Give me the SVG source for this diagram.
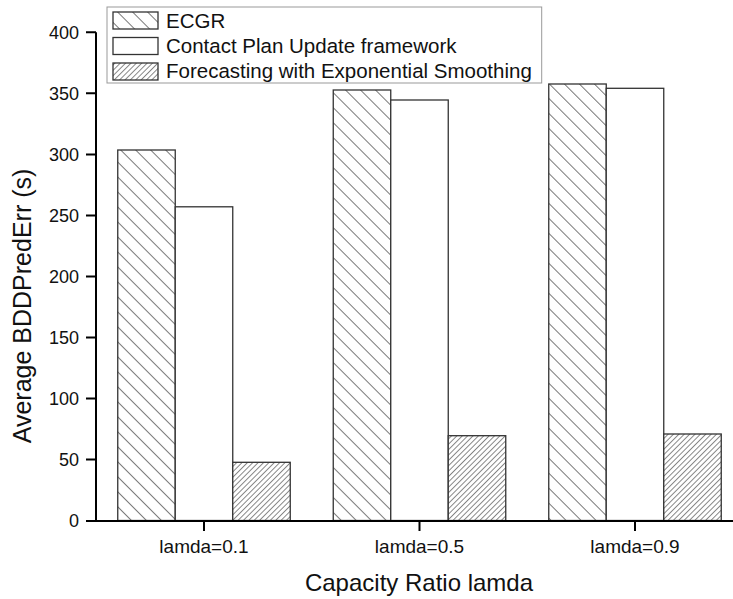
<svg xmlns="http://www.w3.org/2000/svg" width="733" height="599" viewBox="0 0 733 599">
<style>
text{font-family:"Liberation Sans",Arial,sans-serif;fill:#111}
.tick{font-size:18px;text-anchor:end}
.xl{font-size:19px;text-anchor:middle}
.lg{font-size:20.5px}
.title{font-size:24px;text-anchor:middle}
.ytitle{font-size:25px;text-anchor:middle}
.bar{stroke:#333;stroke-width:1.3}
.ax{stroke:#000;stroke-width:2;fill:none}
</style>
<defs>
<pattern id="hA" patternUnits="userSpaceOnUse" width="10.6" height="10" patternTransform="rotate(-45)">
<rect width="10.6" height="10" fill="#fff"/>
<line x1="0.5" y1="0" x2="0.5" y2="10" stroke="#777" stroke-width="1"/>
</pattern>
<pattern id="hC" patternUnits="userSpaceOnUse" width="3.8" height="10" patternTransform="rotate(45)">
<rect width="3.8" height="10" fill="#fff"/>
<line x1="0.5" y1="0" x2="0.5" y2="10" stroke="#777" stroke-width="0.9"/>
</pattern>
</defs>
<rect width="733" height="599" fill="#fff"/>
<g id="bars">
<rect class="bar" x="117.75" y="150" width="57.5" height="370.5" fill="url(#hA)"/>
<rect class="bar" x="175.25" y="206.8" width="57.5" height="313.7" fill="#fff"/>
<rect class="bar" x="232.75" y="462.3" width="57.5" height="58.2" fill="url(#hC)"/>
<rect class="bar" x="333.25" y="90" width="57.5" height="430.5" fill="url(#hA)"/>
<rect class="bar" x="390.75" y="100" width="57.5" height="420.5" fill="#fff"/>
<rect class="bar" x="448.25" y="435.7" width="57.5" height="84.8" fill="url(#hC)"/>
<rect class="bar" x="548.75" y="84" width="57.5" height="436.5" fill="url(#hA)"/>
<rect class="bar" x="606.25" y="88.3" width="57.5" height="432.2" fill="#fff"/>
<rect class="bar" x="663.75" y="434" width="57.5" height="86.5" fill="url(#hC)"/>
</g>
<g id="axes">
<path class="ax" d="M96,32.3 V521 M86,521 H733"/>
<path class="ax" d="M86,32.3H96 M86,93.3H96 M86,154.4H96 M86,215.4H96 M86,276.4H96 M86,337.4H96 M86,398.5H96 M86,459.5H96 M204,521V531 M419.5,521V531 M635,521V531"/>
<text class="tick" x="79" y="38.7">400</text>
<text class="tick" x="79" y="99.7">350</text>
<text class="tick" x="79" y="160.8">300</text>
<text class="tick" x="79" y="221.8">250</text>
<text class="tick" x="79" y="282.8">200</text>
<text class="tick" x="79" y="343.8">150</text>
<text class="tick" x="79" y="404.9">100</text>
<text class="tick" x="79" y="465.9">50</text>
<text class="tick" x="79" y="526.9">0</text>
<text class="xl" x="204" y="552.7">lamda=0.1</text>
<text class="xl" x="419.5" y="552.7">lamda=0.5</text>
<text class="xl" x="635" y="552.7">lamda=0.9</text>
<text class="title" x="419" y="591">Capacity Ratio lamda</text>
<text class="ytitle" transform="translate(31,306) rotate(-90)">Average BDDPredErr (s)</text>
</g>
<g id="legend">
<rect x="107" y="7" width="434.7" height="76" fill="#fff" stroke="#999" stroke-width="1"/>
<rect class="bar" x="113" y="12" width="45" height="17" fill="url(#hA)"/>
<rect class="bar" x="113" y="37.5" width="45" height="17" fill="#fff"/>
<rect class="bar" x="113" y="63" width="45" height="17" fill="url(#hC)"/>
<text class="lg" x="166" y="28">ECGR</text>
<text class="lg" x="166" y="53">Contact Plan Update framework</text>
<text class="lg" x="166" y="78">Forecasting with Exponential Smoothing</text>
</g>
</svg>
